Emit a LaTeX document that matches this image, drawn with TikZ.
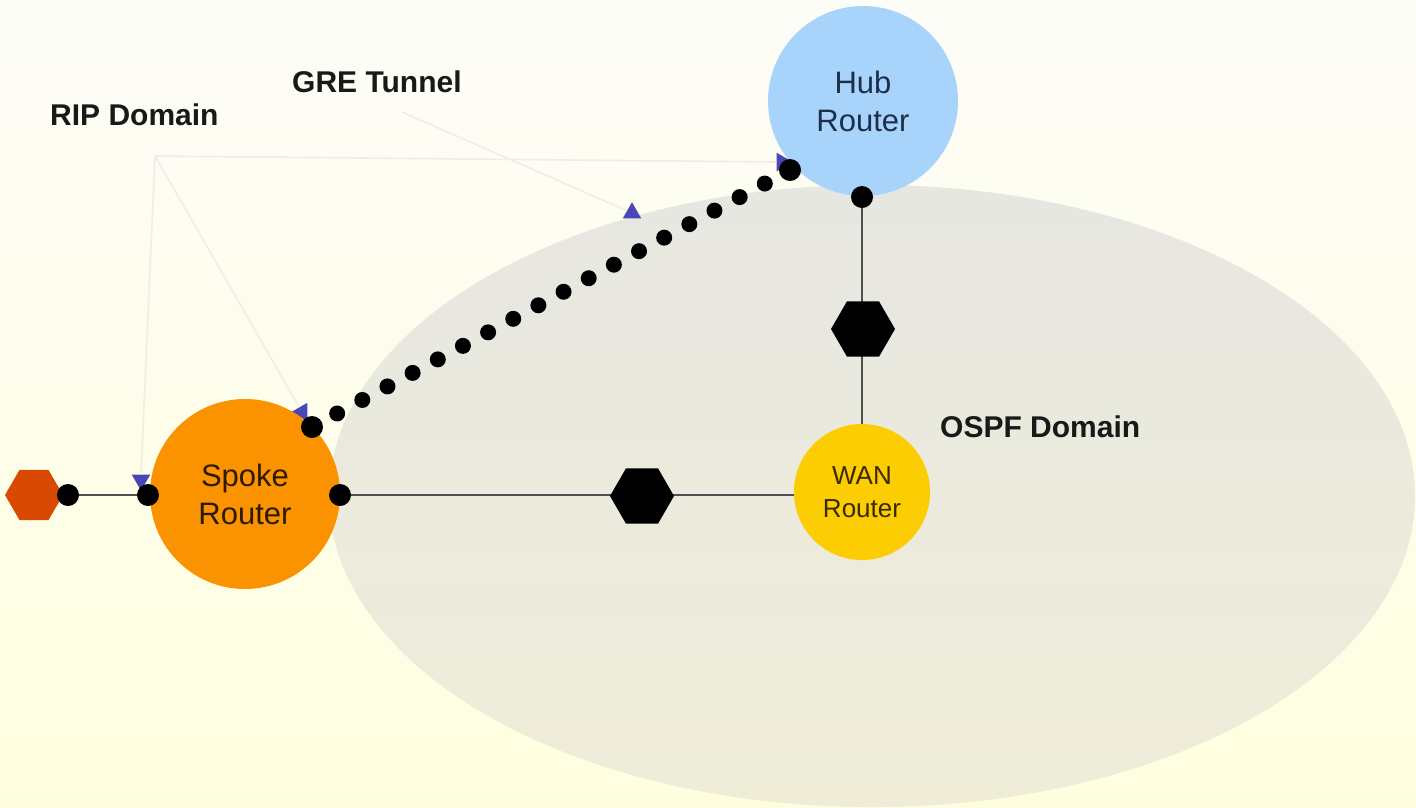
\documentclass[tikz,border=0pt]{standalone}
\usepackage{fontspec}
\setmainfont{Liberation Sans}
\usetikzlibrary{shapes.geometric}

\definecolor{bgtop}{HTML}{FDFDF8}
\definecolor{bgbot}{HTML}{FEFEDF}
\definecolor{ospftop}{HTML}{E7E7E2}
\definecolor{ospfbot}{HTML}{EFEDD8}
\definecolor{hubblue}{HTML}{A8D4FC}
\definecolor{spokeorange}{HTML}{FB9200}
\definecolor{wanyellow}{HTML}{FCCD02}
\definecolor{lanred}{HTML}{D84A02}
\definecolor{tipblue}{HTML}{4A45B8}
\definecolor{calloutgray}{HTML}{EEEEE6}
\definecolor{linkgray}{HTML}{505050}
\definecolor{hubtext}{HTML}{1B2F4A}
\definecolor{spoketext}{HTML}{2B1C00}
\definecolor{wantext}{HTML}{3A2A00}

\tikzset{
  router/.style={circle, draw=none, minimum size=#1, inner sep=0pt, align=center,
                 font=\fontsize{31}{38}\selectfont},
  portdot/.style={circle, fill=black, minimum size=22pt, inner sep=0pt},
  hexa/.style={regular polygon, regular polygon sides=6, minimum size=#1,
               inner sep=0pt, draw=none},
  bluetip/.style={isosceles triangle, isosceles triangle apex angle=60, fill=tipblue,
                  minimum height=16pt, inner sep=0pt, shape border rotate=#1},
  domainlabel/.style={font=\bfseries\fontsize{30}{36}\selectfont, text=black!90, inner sep=0pt},
  link/.style={draw=linkgray, line width=2.5pt},
  calloutline/.style={draw=calloutgray, line width=1.6pt},
  tunnel/.style={line width=16pt, line cap=round, dash pattern=on 0pt off 28.56pt}
}

\begin{document}
\begin{tikzpicture}[x=1pt, y=-1pt]
  % page and background
  \useasboundingbox (0,0) rectangle (1416,807);
  \shade[top color=bgtop, bottom color=bgbot] (0,0) rectangle (1416,807);

  % OSPF area
  \shade[top color=ospftop, bottom color=ospfbot] (872,496) ellipse [x radius=543, y radius=311];

  % callout anchors
  \coordinate (ripc) at (155,156);
  \coordinate (grec) at (402,112);

  % blue callout tips
  \node[bluetip=270] (tipspokeW) at (141,480) {};
  \node[bluetip=135] (tipspokeN) at (302,412) {};
  \node[bluetip=90]  (tipgre)    at (632,213) {};
  \node[bluetip=0]   (tiphub)    at (782,162) {};

  % faint callout lines
  \draw[calloutline] (ripc) -- (tiphub.west);
  \draw[calloutline] (ripc) -- (tipspokeW.north);
  \draw[calloutline] (ripc) -- (tipspokeN);
  \draw[calloutline] (grec) -- (tipgre);

  % routers
  \node[router=190pt, fill=hubblue, text=hubtext]       (hub)   at (863,101) {Hub\\Router};
  \node[router=190pt, fill=spokeorange, text=spoketext] (spoke) at (245,494) {Spoke\\Router};
  \node[router=136pt, fill=wanyellow, text=wantext,
        font=\fontsize{26}{33}\selectfont]               (wan)   at (862,492) {WAN\\Router};

  % LAN segment
  \node[hexa=58pt, fill=lanred] (lan) at (34,495) {};

  % port positions
  \coordinate (lanportc) at (68,495);
  \coordinate (spokeWc)  at (148,495);
  \coordinate (spokeEc)  at (340,495);
  \coordinate (spokeNc)  at (312,427);
  \coordinate (hubSc)    at (862,197);
  \coordinate (hubWc)    at (790,170);

  % links
  \draw[link] (lanportc) -- (spokeWc);
  \draw[link] (spokeEc) -- (spokeEc -| wan.west);
  \draw[link] (hubSc) -- (wan.north);
  \node[hexa=64pt, fill=black] (serialA) at (642,496) {};
  \node[hexa=64pt, fill=black] (serialB) at (863,329) {};

  % GRE tunnel
  \draw[tunnel] (spokeNc) -- (hubWc);

  % ports
  \node[portdot] (lanport) at (lanportc) {};
  \node[portdot] (spokeW)  at (spokeWc)  {};
  \node[portdot] (spokeE)  at (spokeEc)  {};
  \node[portdot] (spokeN)  at (spokeNc)  {};
  \node[portdot] (hubS)    at (hubSc)    {};
  \node[portdot] (hubW)    at (hubWc)    {};

  % labels
  \node[domainlabel, anchor=west] (riplabel)  at (50,115)  {RIP Domain};
  \node[domainlabel, anchor=west] (grelabel)  at (292,82)  {GRE Tunnel};
  \node[domainlabel, anchor=west] (ospflabel) at (940,427) {OSPF Domain};
\end{tikzpicture}
\end{document}
